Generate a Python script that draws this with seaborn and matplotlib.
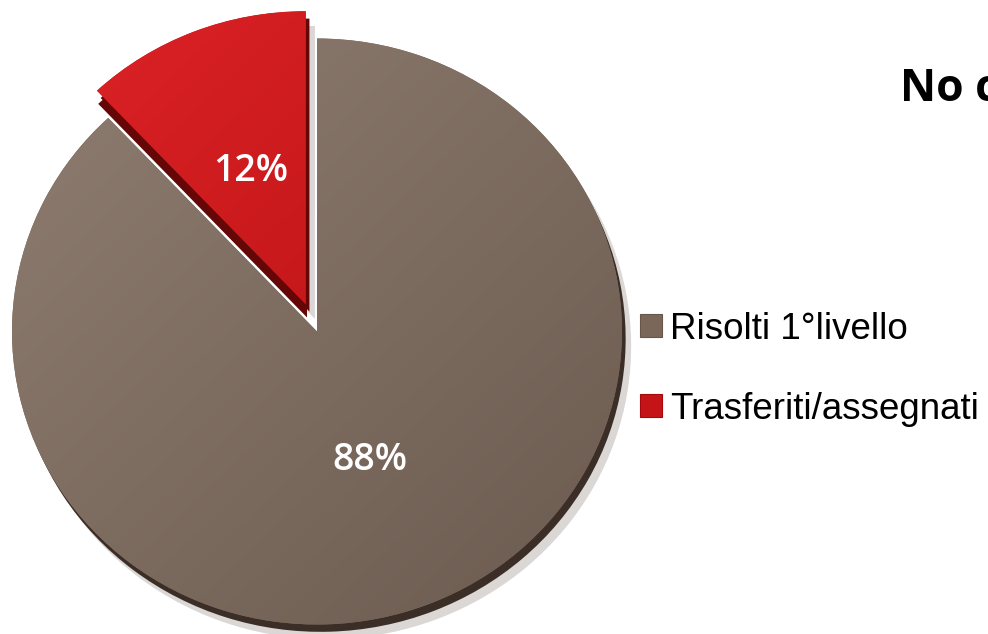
import numpy as np
import matplotlib
matplotlib.use("Agg")
import matplotlib.pyplot as plt
from matplotlib.patches import Patch
from matplotlib.colors import LinearSegmentedColormap
import seaborn as sns

# ---- data ----
categories = ["Risolti 1°livello", "Trasferiti/assegnati"]
values = [88, 12]
title_text = "No c"

sns.set_theme(style="white")
plt.rcParams['font.family'] = ['Liberation Sans', 'DejaVu Sans']
plt.rcParams['text.color'] = 'black'

base = ["#7b6759", "#c41418"]
dark = ["#3b2e27", "#650707"]
light = ["#938175", "#e32629"]
deep = ["#67564b", "#a6080b"]
explode = [0, 0.1]

fig = plt.figure(figsize=(9.88, 6.34), dpi=100)
ax = fig.add_axes([0, 0, 1, 1])

# drop shadow & 3D edge
sh, _ = ax.pie(values, colors=["#dad7d5", "#dcd6d6"], startangle=90, counterclock=False,
               explode=explode, center=(0.03, -0.05), wedgeprops=dict(linewidth=0))
for w in sh:
    w.set_zorder(0.3)
ed, _ = ax.pie(values, colors=dark, startangle=90, counterclock=False,
               explode=explode, center=(0.012, -0.025), wedgeprops=dict(linewidth=0))
for w in ed:
    w.set_zorder(0.5)
ed2, _ = ax.pie(values, colors=["none", dark[1]], startangle=90, counterclock=False,
                explode=explode, center=(0.004, -0.045), wedgeprops=dict(linewidth=0))
for w in ed2:
    w.set_zorder(0.6)

wedges, _, autotexts = ax.pie(values, colors=base, startangle=90, counterclock=False,
                              explode=explode, autopct="%1.0f%%",
                              wedgeprops=dict(linewidth=0),
                              textprops=dict(color="white", fontsize=27, fontweight="semibold",
                                             family=["Open Sans", "DejaVu Sans"]))

# gradient fill clipped to each wedge
xs = np.linspace(0, 1, 300)
X, Y = np.meshgrid(xs, xs)
T = (X - Y + 1) / 2
for w, lc, dc in zip(wedges, light, deep):
    cm = LinearSegmentedColormap.from_list("g", [lc, dc])
    im = ax.imshow(T, cmap=cm, extent=(-1.25, 1.25, -1.25, 1.25), origin="lower",
                   zorder=1.2, interpolation="bilinear")
    im.set_clip_path(w)

# place percentage labels
dists = [0.47, 0.49]
for w, t, d in zip(wedges, autotexts, dists):
    ang = np.deg2rad((w.theta1 + w.theta2) / 2)
    cx, cy = w.center
    t.set_position((cx + d * np.cos(ang), cy + d * np.sin(ang)))
    t.set_zorder(5)

cx_px, cy_px = 317, 331.5
sx, sy = 305, 293
ax.set_aspect("auto")
ax.set_xlim(-cx_px / sx, (988 - cx_px) / sx)
ax.set_ylim(-(634 - cy_px) / sy, cy_px / sy)
ax.axis("off")

handles = [Patch(facecolor=c, edgecolor=d, linewidth=0.8) for c, d in zip(base, deep)]
fig.legend(handles=handles, labels=categories, loc="upper left",
           bbox_to_anchor=(640 / 988, 1 - 311.5 / 634), frameon=False,
           fontsize=26.5, borderpad=0, borderaxespad=0, handlelength=0.6,
           handleheight=0.6, handletextpad=0.22, labelspacing=1.23,
           labelcolor="black")

fig.text(900 / 988, 1 - 101 / 634, title_text, fontsize=32, fontweight="bold",
         family=["Open Sans", "DejaVu Sans"], va="baseline", ha="left", color="black")

fig.savefig("out.png", dpi=100)
